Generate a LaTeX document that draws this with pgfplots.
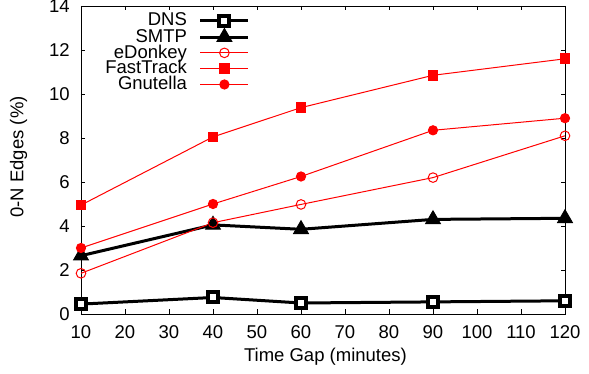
\documentclass[border=0pt]{standalone}
\usepackage{pgfplots}
\pgfplotsset{compat=1.18}
\usepackage{fontspec}
\setmainfont{Liberation Sans}
\begin{document}
\fontsize{18.5}{20}\selectfont
\begin{tikzpicture}
\useasboundingbox (-81pt,-60pt) rectangle (508pt,314pt);
\begin{axis}[
  at={(0pt,0pt)}, anchor=south west,
  scale only axis,
  width=484pt, height=308pt,
  xmin=10, xmax=120, ymin=0, ymax=14,
  xtick={10,20,...,120}, ytick={0,2,...,14},
  tick align=inside,
  tick pos=both,
  major tick length=4.5pt,
  tick style={line width=0.8pt, black},
  /pgf/number format/assume math mode=true,
  ticklabel style={font=\fontsize{18.5}{20}\selectfont},
  xticklabel style={yshift=-5.5pt},
  yticklabel style={xshift=-5pt},
  label style={font=\fontsize{18.5}{20}\selectfont},
  xlabel={Time Gap (minutes)},
  ylabel={0-N Edges (\%)},
  xlabel style={at={(axis description cs:0.505,-0.1396)}, anchor=center},
  ylabel style={at={(axis description cs:-0.129,0.51)}, anchor=center},
  axis line style={line width=0.9pt},
  legend style={draw=none, fill=none, at={(axis description cs:0.349,0.978)}, anchor=north east,
    font=\fontsize{18.5}{20}\selectfont, row sep=0pt, column sep=12pt,
    inner sep=0pt, outer sep=0pt,
    nodes={inner sep=0pt, outer sep=0pt, text height=13.2pt, text depth=2.6pt}},
  legend cell align=right,
  legend plot pos=right,
  legend image code/.code={
    \draw[mark repeat=2,mark phase=2] plot coordinates {(0pt,0pt) (24pt,0pt) (48pt,0pt)};
  },
]
\addplot[black, line width=3pt, mark=square*, mark size=5pt, mark options={line width=4pt, solid, fill=white}]
  coordinates {(10,0.45) (40,0.75) (60,0.5) (90,0.55) (120,0.6)};
\addlegendentry{DNS}
\addplot[black, line width=3pt, mark=triangle*, mark size=8.5pt, mark options={line width=1pt, solid}]
  coordinates {(10,2.65) (40,4.05) (60,3.85) (90,4.3) (120,4.35)};
\addlegendentry{SMTP}
\addplot[red, line width=1pt, mark=o, mark size=4.8pt, mark options={solid, line width=1pt}]
  coordinates {(10,1.85) (40,4.15) (60,4.98) (90,6.2) (120,8.1)};
\addlegendentry{eDonkey}
\addplot[red, line width=1pt, mark=square*, mark size=4.8pt, mark options={solid}]
  coordinates {(10,4.95) (40,8.05) (60,9.38) (90,10.85) (120,11.6)};
\addlegendentry{FastTrack}
\addplot[red, line width=1pt, mark=*, mark size=4.6pt, mark options={solid}]
  coordinates {(10,3.0) (40,5.0) (60,6.25) (90,8.35) (120,8.9)};
\addlegendentry{Gnutella}
\end{axis}
\end{tikzpicture}
\end{document}
